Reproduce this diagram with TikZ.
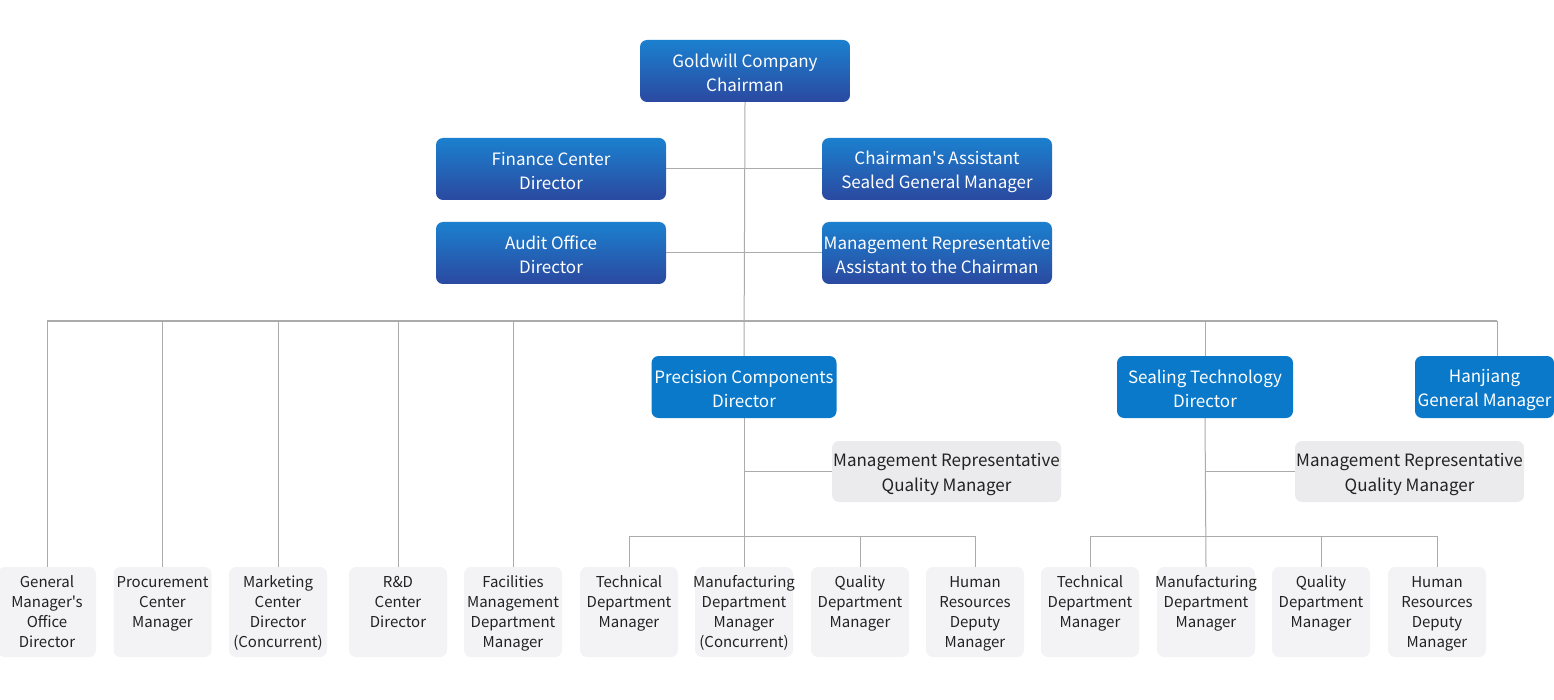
\documentclass[tikz,border=0pt]{standalone}
\usepackage{fontspec}
\setmainfont{Noto Sans CJK SC}[Ligatures=TeXOff]
\usetikzlibrary{backgrounds}
\definecolor{gtop}{HTML}{1B80CF}
\definecolor{gbot}{HTML}{2B49A0}
\definecolor{midblue}{HTML}{0B79C9}
\definecolor{qmgray}{HTML}{EBEBED}
\definecolor{botgray}{HTML}{F3F3F5}
\definecolor{linegray}{HTML}{ABABAB}
\definecolor{darktext}{HTML}{222222}
\newcommand{\mystrut}{\rule[-3.2pt]{0pt}{22.5pt}}
\newcommand{\qmstrut}{\rule[-3.5pt]{0pt}{23.5pt}}
\newcommand{\botstrut}{\rule[-5.5pt]{0pt}{19pt}}
\tikzset{
  topbox/.style={rounded corners=7pt, top color=gtop, bottom color=gbot, draw=none,
    text=white, align=center, minimum width=230pt, minimum height=62pt, inner sep=0pt,
    font=\fontsize{17}{24}\selectfont},
  midbox/.style={rounded corners=7pt, fill=midblue, text=white, align=center,
    minimum height=62pt, inner sep=0pt, font=\fontsize{17}{24}\selectfont},
  qmbox/.style={rounded corners=7pt, fill=qmgray, text=darktext, align=center,
    minimum width=229pt, minimum height=61pt, inner sep=0pt, font=\fontsize{17}{25}\selectfont},
  botbox/.style={rounded corners=7pt, fill=botgray, minimum width=98pt, minimum height=90pt, inner sep=0pt},
  bottext/.style={anchor=north, align=center, text=darktext, inner sep=0pt,
    font=\fontsize{15}{20}\selectfont},
  conn/.style={draw=linegray, line width=1pt}
}
\begin{document}
\begin{tikzpicture}[x=1pt,y=-1pt]
\useasboundingbox (0,0) rectangle (1554,700);
% top boxes
\node[topbox, minimum width=210pt] (chair) at (745,71) {\mystrut Goldwill Company\\\mystrut Chairman};
\node[topbox] (fin) at (551,169) {\mystrut Finance Center\\\mystrut Director};
\node[topbox] (asst) at (937,169) {\mystrut Chairman's Assistant\\\mystrut Sealed General Manager};
\node[topbox] (aud) at (551,253) {\mystrut Audit Office\\\mystrut Director};
\node[topbox] (mrep) at (937,253) {\mystrut Management Representative\\\mystrut Assistant to the Chairman};
% middle boxes
\node[midbox, minimum width=185pt] (pc) at (744,387) {\mystrut Precision Components\\\mystrut Director};
\node[midbox, minimum width=176pt] (st) at (1205,387) {\mystrut Sealing Technology\\\mystrut Director};
\node[midbox, minimum width=139pt] (hj) at (1484.5,387) {\mystrut Hanjiang\\\mystrut General Manager};
\node[qmbox] (qm1) at (946.5,471.5) {\qmstrut Management Representative\\\qmstrut Quality Manager};
\node[qmbox] (qm2) at (1409.5,471.5) {\qmstrut Management Representative\\\qmstrut Quality Manager};
% bottom boxes
\foreach \n/\x in {b1/47,b2/162.5,b3/278,b4/398,b5/513,b6/629,b7/744,b8/860,b9/975,b10/1090,b11/1206,b12/1321,b13/1437}{
  \node[botbox] (\n) at (\x,612) {};
}
\tikzset{bt/.style={bottext, yshift=-7pt}}
\node[bt] (t1) at (b1.north) {\botstrut General\\\botstrut Manager's\\\botstrut Office\\\botstrut Director};
\node[bt] (t2) at (b2.north) {\botstrut Procurement\\\botstrut Center\\\botstrut Manager};
\node[bt] (t3) at (b3.north) {\botstrut Marketing\\\botstrut Center\\\botstrut Director\\\botstrut (Concurrent)};
\node[bt] (t4) at (b4.north) {\botstrut R\&D\\\botstrut Center\\\botstrut Director};
\node[bt] (t5) at (b5.north) {\botstrut Facilities\\\botstrut Management\\\botstrut Department\\\botstrut Manager};
\node[bt] (t6) at (b6.north) {\botstrut Technical\\\botstrut Department\\\botstrut Manager};
\node[bt] (t7) at (b7.north) {\botstrut Manufacturing\\\botstrut Department\\\botstrut Manager\\\botstrut (Concurrent)};
\node[bt] (t8) at (b8.north) {\botstrut Quality\\\botstrut Department\\\botstrut Manager};
\node[bt] (t9) at (b9.north) {\botstrut Human\\\botstrut Resources\\\botstrut Deputy\\\botstrut Manager};
\node[bt] (t10) at (b10.north) {\botstrut Technical\\\botstrut Department\\\botstrut Manager};
\node[bt] (t11) at (b11.north) {\botstrut Manufacturing\\\botstrut Department\\\botstrut Manager};
\node[bt] (t12) at (b12.north) {\botstrut Quality\\\botstrut Department\\\botstrut Manager};
\node[bt] (t13) at (b13.north) {\botstrut Human\\\botstrut Resources\\\botstrut Deputy\\\botstrut Manager};
% connectors
\coordinate (busL) at (47,321);
\coordinate (busR) at (1497,321);
\coordinate (sub1) at (629,536);
\coordinate (sub2) at (1090,536);
\begin{scope}[on background layer]
\draw[conn] (chair.south) -- (pc.north);
\draw[conn] (fin.east) -- (asst.west);
\draw[conn] (aud.east) -- (mrep.west);
\draw[conn] (busL) -- (busR);
\foreach \n in {b1,b2,b3,b4,b5}{\draw[conn] (\n.north) -- (\n.north |- busL);}
\draw[conn] (st.north) -- (st.north |- busL);
\draw[conn] (busR) -- (busR |- hj.north);
\draw[conn] (pc.south) -- (b7.north);
\draw[conn] (st.south) -- (b11.north);
\draw[conn] (qm1.west) -- (qm1.west -| pc.south);
\draw[conn] (qm2.west) -- (qm2.west -| st.south);
\draw[conn] (b6.north) -- (sub1) -| (b9.north);
\draw[conn] (b8.north) -- (b8.north |- sub1);
\draw[conn] (b10.north) -- (sub2) -| (b13.north);
\draw[conn] (b12.north) -- (b12.north |- sub2);
\end{scope}
\end{tikzpicture}
\end{document}
